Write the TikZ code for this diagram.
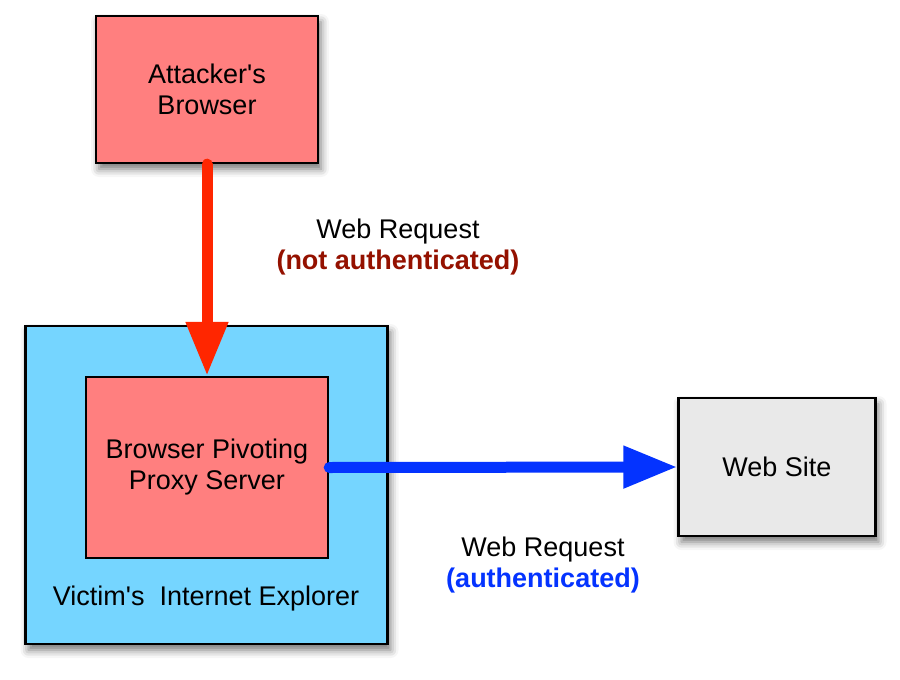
\documentclass[tikz,border=0pt]{standalone}
\usepackage{fontspec}
\setmainfont{Liberation Sans}
\usetikzlibrary{arrows.meta,positioning,shadows.blur}
\definecolor{attackred}{RGB}{255,127,127}
\definecolor{victimblue}{RGB}{117,213,255}
\definecolor{sitegray}{RGB}{233,233,233}
\definecolor{arrowred}{RGB}{255,38,0}
\definecolor{arrowblue}{RGB}{4,51,255}
\definecolor{labelred}{RGB}{148,17,0}
\tikzset{
  box/.style={draw=black,line width=1.2pt,inner sep=0pt,align=center},
  shade/.style={blur shadow={shadow xshift=1.5pt,shadow yshift=-3pt,
      shadow blur radius=4pt,shadow opacity=55}},
  flow/.style={line width=5.5pt,line cap=round,
      -{Triangle[width=20pt,length=27pt]}},
}

\begin{document}
\begin{tikzpicture}[x=0.5pt,y=-0.5pt,font=\fontsize{13.5}{15.5}\selectfont]
      \useasboundingbox (0,0) rectangle (900,680);
      % boxes
      \node[box,shade,fill=attackred,minimum width=111pt,minimum height=73.5pt]
        (attacker) at (207,89.5) {Attacker\textquotesingle s\\Browser};
      \node[box,shade,fill=victimblue,minimum width=181pt,minimum height=159pt]
        (victim) at (206.5,485) {};
      \node[box,fill=attackred,minimum width=121pt,minimum height=90.5pt]
        (proxy) at (207,467.5) {Browser Pivoting\\Proxy Server};
      \node (victimlabel) at (206,599) {Victim\textquotesingle s~~Internet Explorer};
      \node[box,shade,fill=sitegray,minimum width=98.5pt,minimum height=69pt]
        (website) at (777,467) {Web Site};
      % requests
      \draw[flow,arrowred] (attacker.south) -- (proxy.north);
      \draw[flow,arrowblue] (proxy.east) -- (website.west);
      \node[align=center] (reqplain) at (398,247)
        {Web Request\\\textcolor{labelred}{\textbf{(not authenticated)}}};
      \node[align=center] (reqauth) at (543,565)
        {Web Request\\\textcolor{arrowblue}{\textbf{(authenticated)}}};
\end{tikzpicture}
\end{document}
